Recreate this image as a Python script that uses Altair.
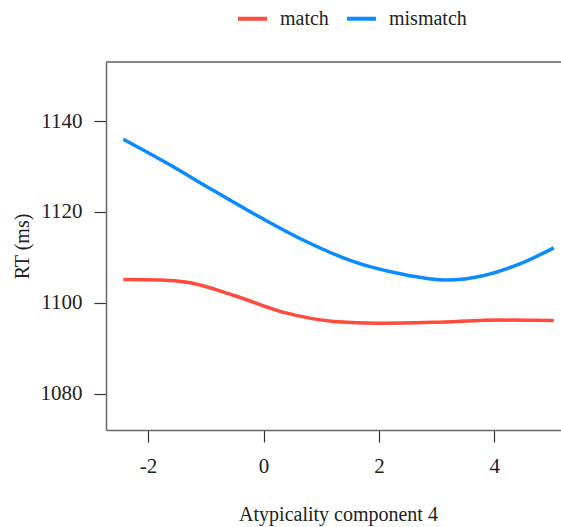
import altair as alt
import pandas as pd

# mismatch (blue) curve
mis_x = [-2.43, -1.67, -0.92, -0.17, 0.64, 1.51, 2.37, 3.18, 3.82, 4.45, 5.03]
mis_y = [1136.0, 1130.7, 1125.1, 1119.6, 1114.1, 1109.3, 1106.4, 1105.0, 1106.0, 1108.6, 1112.1]
# match (red) curve
mat_x = [-2.43, -1.79, -1.32, -0.51, 0.35, 1.22, 1.97, 2.95, 4.11, 5.03]
mat_y = [1105.1, 1105.0, 1104.5, 1101.6, 1097.9, 1095.9, 1095.5, 1095.7, 1096.2, 1096.1]

groups = ["match", "mismatch"]
colors = ["#FF4B3B", "#0A8BFF"]
x_ticks = [-2, 0, 2, 4]
y_ticks = [1080, 1100, 1120, 1140]

df = pd.concat([
    pd.DataFrame({"x": mat_x, "y": mat_y, "cond": "match"}),
    pd.DataFrame({"x": mis_x, "y": mis_y, "cond": "mismatch"}),
])

FONT = "Liberation Serif"

lines = alt.Chart(df).mark_line(strokeWidth=3.5, interpolate="monotone", clip=True).encode(
    x=alt.X("x:Q",
            scale=alt.Scale(domain=[-2.73, 5.155], nice=False, zero=False),
            axis=alt.Axis(values=x_ticks, title="Atypicality component 4", grid=False,
                          labelExpr="toString(datum.value)",
                          domain=True, domainColor="#666", domainWidth=1.5,
                          tickColor="#333", tickSize=12, tickWidth=1.2,
                          labelFont=FONT, labelFontSize=21, labelColor="#222", labelPadding=13,
                          titleFont=FONT, titleFontSize=20, titleFontWeight="normal",
                          titleColor="#222", titlePadding=28, titleX=232)),
    y=alt.Y("y:Q",
            scale=alt.Scale(domain=[1072, 1153], nice=False, zero=False),
            axis=alt.Axis(values=y_ticks, title="RT (ms)", grid=False, format="d",
                          domain=True, domainColor="#666", domainWidth=1.5,
                          tickColor="#333", tickSize=12, tickWidth=1.2,
                          labelFont=FONT, labelFontSize=21, labelColor="#222", labelPadding=12,
                          titleFont=FONT, titleFontSize=20, titleFontWeight="normal",
                          titleColor="#222", titlePadding=8)),
    color=alt.Color("cond:N",
                    scale=alt.Scale(domain=groups, range=colors),
                    legend=alt.Legend(title=None, orient="none", direction="horizontal",
                                      legendX=130, legendY=-60,
                                      symbolType="stroke", symbolSize=841, symbolStrokeWidth=4,
                                      labelFont=FONT, labelFontSize=20, labelColor="#222",
                                      labelOffset=11, columnPadding=10, padding=0)),
)

top = alt.Chart(pd.DataFrame({"y": [1153]})).mark_rule(color="#666", strokeWidth=1.5).encode(
    y="y:Q"
)

chart = alt.layer(top, lines).properties(
    width=455, height=368,
    autosize=alt.AutoSizeParams(type="none"),
    padding={"left": 106, "top": 62, "right": 0, "bottom": 97},
).configure_view(stroke=None).configure(background="white")

chart.save("out.html", embed_options={"renderer": "svg", "actions": False})
